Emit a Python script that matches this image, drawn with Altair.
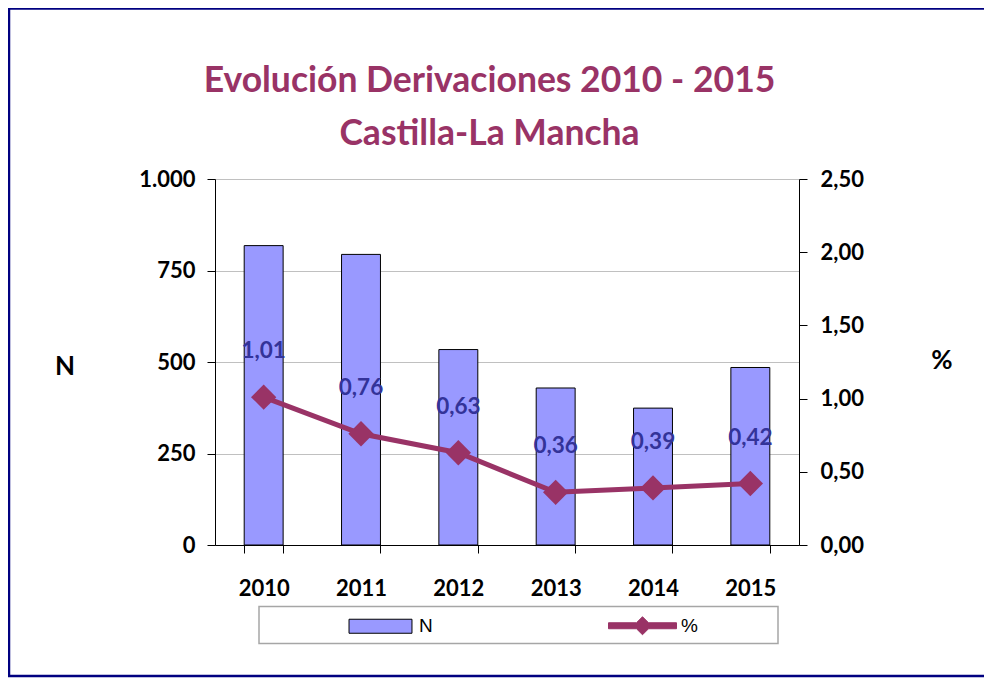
import altair as alt
import pandas as pd

# ---- data ----
title_lines = ["Evolución Derivaciones 2010 - 2015", "Castilla-La Mancha"]
years = ["2010", "2011", "2012", "2013", "2014", "2015"]
n_values = [818, 794, 534, 429, 374, 485]
pct_values = [1.01, 0.76, 0.63, 0.36, 0.39, 0.42]
left_ticks = [0, 250, 500, 750, 1000]
right_ticks = [0, 0.5, 1.0, 1.5, 2.0, 2.5]
series_names = ["N", "%"]
series_colors = ["#9999FF", "#993366"]
series_strokes = ["black", "#993366"]

df = pd.DataFrame({"year": years, "N": n_values, "pct": pct_values})
legend_df = pd.DataFrame({"serie": series_names})

FONT = "Lato"
PLOT_W, PLOT_H = 584, 366

x_enc = alt.X(
    "year:N",
    title=None,
    scale=alt.Scale(paddingInner=0.6, paddingOuter=0.3),
    axis=alt.Axis(
        labelAngle=0, labelFont=FONT, labelFontSize=22, labelFontWeight="bold",
        labelColor="black", labelPadding=25, tickBand="extent", tickSize=8,
        tickColor="black", domainColor="black", grid=False,
    ),
)

left_axis = alt.Axis(
    orient="left", values=left_ticks, grid=True, gridColor="#c0c0c0",
    labelFont=FONT, labelFontSize=22, labelFontWeight="bold", labelColor="black",
    labelPadding=12, tickSize=8, tickColor="black", domainColor="black",
    labelExpr="replace(format(datum.value, ','), ',', '.')",
    title="N", titleAngle=0, titleFont=FONT, titleFontSize=26, titleFontWeight="bold",
    titleColor="black", titleX=-150.5, titleY=187.5, titleAlign="center",
    titleBaseline="middle",
)

right_axis = alt.Axis(
    orient="right", values=right_ticks, grid=False,
    labelFont=FONT, labelFontSize=22, labelFontWeight="bold", labelColor="black",
    labelPadding=13, tickSize=8, tickColor="black", domainColor="black",
    labelExpr="replace(format(datum.value, '.2f'), '.', ',')",
    title="%", titleAngle=0, titleFont=FONT, titleFontSize=26, titleFontWeight="bold",
    titleColor="black", titleX=142.5, titleY=181.5, titleAlign="center",
    titleBaseline="middle",
)

# legend swatch shapes (unit coordinates, scaled by the legend symbol size)
N_PATH = "M-0.926,-0.206H0.926V0.206H-0.926Z"
L_PATH = ("M-1,-0.088H-0.177L0,-0.265L0.177,-0.088H1V0.088H0.177L0,0.265"
          "L-0.177,0.088H-1Z")

legend = alt.Legend(
    title=None, orient="none", legendX=131, legendY=412, direction="horizontal",
    columns=2, columnPadding=173, padding=0, labelOffset=4,
    labelFont="Liberation Sans", labelFontSize=19, labelColor="black",
    symbolSize=4624, symbolStrokeWidth=1, symbolOpacity=1,
)

base = alt.Chart(df)

bars = base.mark_bar(
    fill="#9999FF", stroke="black", strokeWidth=1, opacity=1
).encode(
    x=x_enc,
    y=alt.Y("N:Q", scale=alt.Scale(domain=[0, 1000]), axis=left_axis),
)

y_r = alt.Y("pct:Q", scale=alt.Scale(domain=[0, 2.5]), axis=right_axis)

line = base.mark_line(strokeWidth=5, color="#993366").encode(x=x_enc, y=y_r)

points = base.mark_point(
    shape="diamond", size=640, filled=True, fill="#993366", opacity=1, strokeWidth=0
).encode(x=x_enc, y=y_r)

labels = base.transform_calculate(
    lbl="replace(format(datum.pct, '.2f'), '.', ',')"
).mark_text(
    font=FONT, fontSize=22.5, fontWeight="bold", color="#333399", dy=-46,
    baseline="middle", align="center",
).encode(x=x_enc, y=y_r, text="lbl:N")

right_layer = alt.layer(line, points, labels)

# legend carrier: its own marks sit off the canvas, only the legend shows
legend_layer = alt.Chart(legend_df).mark_point(filled=True, opacity=1).encode(
    x=alt.value(-3000),
    y=alt.value(-3000),
    color=alt.Color("serie:N", scale=alt.Scale(domain=series_names, range=series_colors), legend=legend),
    shape=alt.Shape("serie:N", scale=alt.Scale(domain=series_names, range=[N_PATH, L_PATH]), legend=legend),
    stroke=alt.Stroke("serie:N", scale=alt.Scale(domain=series_names, range=series_strokes), legend=legend),
)

one = pd.DataFrame({"a": [0]})
frame_style = dict(color="#000080", strokeWidth=2.5)
frame_top = alt.Chart(one).mark_rule(**frame_style).encode(
    x=alt.value(-207), x2=alt.value(769), y=alt.value(-170.5))
frame_left = alt.Chart(one).mark_rule(**frame_style).encode(
    x=alt.value(-206), y=alt.value(-171.5), y2=alt.value(498))
frame_bottom = alt.Chart(one).mark_rule(**frame_style).encode(
    x=alt.value(-207), x2=alt.value(769), y=alt.value(497))

legend_box = alt.Chart(one).mark_rect(
    fill="transparent", stroke="#a6a6a6", strokeWidth=1.5
).encode(x=alt.value(44), x2=alt.value(563), y=alt.value(427.5), y2=alt.value(464.5))

title_style = dict(font=FONT, fontSize=35.5, fontWeight="bold", color="#993366",
                   align="center", baseline="alphabetic")
title1 = alt.Chart(pd.DataFrame({"t": [title_lines[0]]})).mark_text(**title_style).encode(
    text="t:N", x=alt.value(274.5), y=alt.value(-87.2))
title2 = alt.Chart(pd.DataFrame({"t": [title_lines[1]]})).mark_text(**title_style).encode(
    text="t:N", x=alt.value(274.5), y=alt.value(-34.5))

chart = alt.layer(
    frame_top, frame_left, frame_bottom, legend_box, title1, title2,
    bars, right_layer, legend_layer
).resolve_scale(
    y="independent"
).properties(
    width=PLOT_W,
    height=PLOT_H,
    padding={"left": 207, "top": 171, "right": 185, "bottom": 133},
    autosize=alt.AutoSizeParams(type="none"),
).configure_view(stroke=None).configure(background="white")

chart.save("out.html", embed_options={"renderer": "svg", "actions": False})
